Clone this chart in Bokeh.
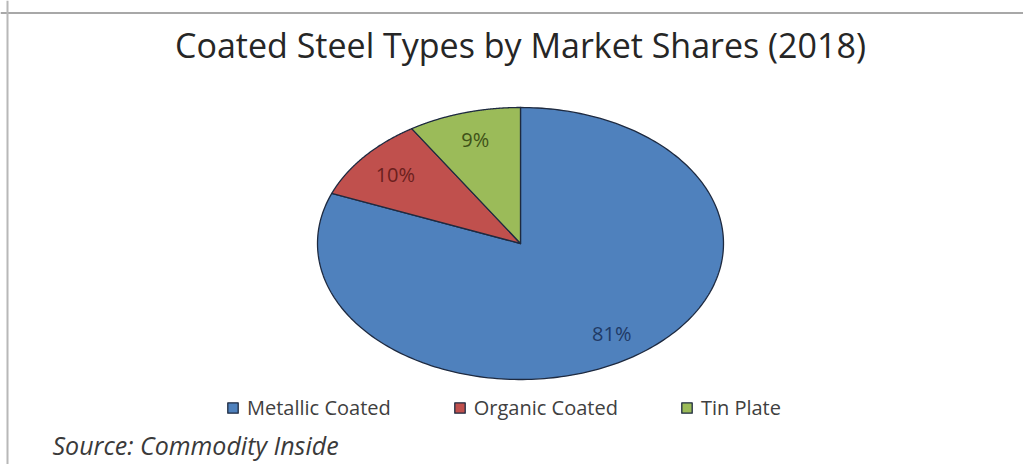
import numpy as np
from bokeh.plotting import figure
from bokeh.models import ColumnDataSource, Label, Legend, LegendItem, Range1d, Span
from bokeh.embed import file_html
from bokeh.resources import INLINE
from bokeh.core.properties import value

# ---- data ----
categories = ["Metallic Coated", "Organic Coated", "Tin Plate"]
shares = [81, 10, 9]
pct_labels = ["81%", "10%", "9%"]
colors = ["#4F81BD", "#C0504D", "#9BBB59"]
label_colors = ["#1F3A66", "#6B1F1D", "#3F5218"]
title_text = "Coated Steel Types by Market Shares (2018)"
source_text = "Source: Commodity Inside"

# ---- layout ----
W, H = 1023, 464
cx_px, cy_px = 520, 243      # pie centre (pixels from top-left)
rx_px, ry_px = 203, 136      # pie radii in pixels (elliptical pie)

p = figure(width=W, height=H, output_backend="svg", toolbar_location=None,
           x_range=Range1d(-cx_px / rx_px, (W - cx_px) / rx_px),
           y_range=Range1d(-(H - cy_px) / ry_px, cy_px / ry_px),
           x_axis_location=None, y_axis_location=None,
           min_border=0, min_border_left=0, min_border_right=0,
           min_border_top=0, min_border_bottom=0)
p.grid.visible = False
p.outline_line_color = None
p.background_fill_color = "white"
p.border_fill_color = "white"

# slices: clockwise from 12 o'clock
total = float(sum(shares))
fr = np.array(shares) / total * 2 * np.pi
ends = np.cumsum(fr)
starts = ends - fr
xs, ys = [], []
for a0, a1 in zip(starts, ends):
    t = np.linspace(a0, a1, 240)
    xs.append(np.concatenate([[0.0], np.sin(t), [0.0]]))
    ys.append(np.concatenate([[0.0], np.cos(t), [0.0]]))

src = ColumnDataSource(dict(xs=xs, ys=ys, color=colors, cat=categories))
r = p.patches("xs", "ys", source=src, fill_color="color",
              line_color="#1E2A40", line_width=1.3, line_join="round")

mid = (starts + ends) / 2
lsrc = ColumnDataSource(dict(x=0.8 * np.sin(mid), y=0.8 * np.cos(mid),
                             text=pct_labels, color=label_colors))
p.text("x", "y", text="text", source=lsrc, text_color="color",
       text_align="center", text_baseline="middle",
       text_font=value("Open Sans"), text_font_size="20px")

# legend
items = [LegendItem(label=c, renderers=[r], index=i) for i, c in enumerate(categories)]
legend = Legend(items=items, orientation="horizontal", location=(226, 43),
                glyph_width=13, glyph_height=13, label_standoff=8, spacing=62,
                padding=0, margin=0, border_line_color=None, background_fill_alpha=0,
                label_text_font="Open Sans", label_text_font_size="20px",
                label_text_color="#404040")
p.add_layout(legend)

# title and source
p.add_layout(Label(x=520, y=H - 44, x_units="screen", y_units="screen",
                   text=title_text, text_align="center", text_baseline="alphabetic",
                   text_font="Open Sans", text_font_size="34px", text_color="#262626"))
p.add_layout(Label(x=52, y=H - 444, x_units="screen", y_units="screen",
                   text=source_text, text_align="left", text_baseline="alphabetic",
                   text_font="Open Sans", text_font_style="italic",
                   text_font_size="25px", text_color="#3A3A3A"))

# frame lines (top and left) of the original picture
p.add_layout(Span(location=H - 12.5, dimension="width", location_units="screen",
                  line_color="#A8A8A8", line_width=2))
p.add_layout(Span(location=7, dimension="height", location_units="screen",
                  line_color="#B8B8B8", line_width=2))

open("out.html", "w").write(file_html(p, INLINE))
